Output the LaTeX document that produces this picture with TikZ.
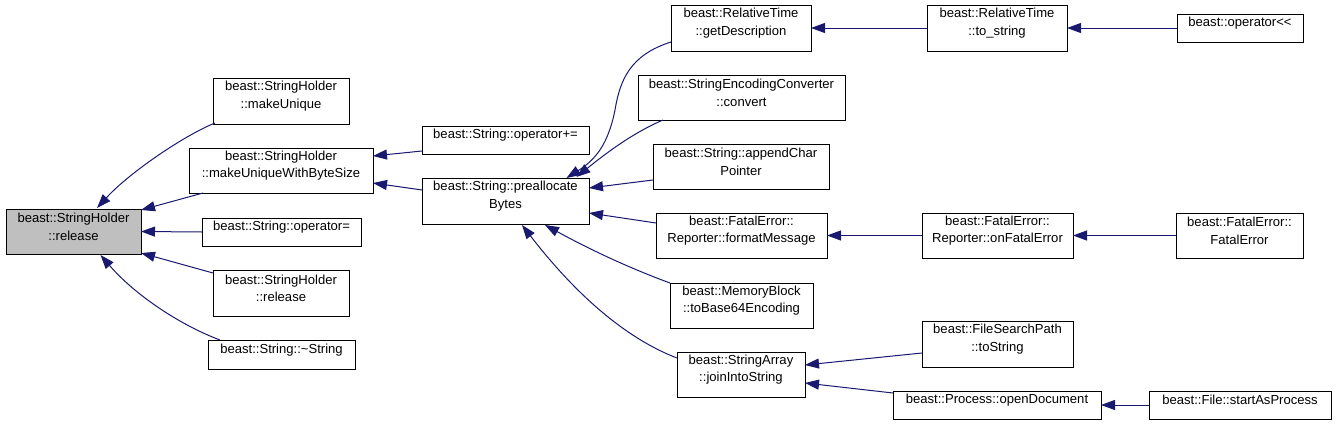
\documentclass[tikz,border=0pt]{standalone}
\usepackage{fontspec}
\setmainfont{Liberation Sans}
\usetikzlibrary{fit,calc,arrows.meta}
\definecolor{edgeblue}{RGB}{25,25,112}
\definecolor{relgray}{RGB}{191,191,191}
\begin{document}
\begin{tikzpicture}[x=0.75pt,y=-0.75pt,
  box/.style={draw=black,line width=0.75pt,inner sep=0pt,outer sep=0pt,align=center,
    font=\fontsize{9.8}{13}\selectfont},
  lbox/.style={box,align=left},
  edge/.style={draw=edgeblue,line width=0.75pt,-{Triangle[length=10.5pt,width=7.5pt]}}]
\useasboundingbox (0,0) rectangle (1336,425);
% nodes
\node[box,fill=relgray,fit={(6,209)(141,254)}] (rel) {beast::StringHolder\\::release};
\node[box,fit={(213,78)(349,124)}] (mu) {beast::StringHolder\\::makeUnique};
\node[lbox,fit={(189,148)(373,193)}] (mws) {beast::StringHolder\\::makeUniqueWithByteSize};
\node[box,fit={(202,218)(361,246)}] (opeq) {beast::String::operator=};
\node[box,fit={(213,270)(349,316)}] (shrel) {beast::StringHolder\\::release};
\node[box,fit={(208,340)(355,369)}] (dtor) {beast::String::\textasciitilde String};
\node[box,fit={(422,126)(589,154)}] (opplus) {beast::String::operator+=};
\node[box,fit={(422,178)(589,224)}] (pre) {beast::String::preallocate\\Bytes};
\node[box,fit={(671,5)(811,51)}] (gd) {beast::RelativeTime\\::getDescription};
\node[box,fit={(638,75)(845,120)}] (conv) {beast::StringEncodingConverter\\::convert};
\node[box,fit={(653,144)(829,189)}] (acp) {beast::String::appendChar\\Pointer};
\node[lbox,fit={(656,213)(827,258)}] (fm) {beast::FatalError::\\Reporter::formatMessage};
\node[box,fit={(670,283)(813,328)}] (mb) {beast::MemoryBlock\\::toBase64Encoding};
\node[box,fit={(677,352)(805,397)}] (jis) {beast::StringArray\\::joinIntoString};
\node[box,fit={(927,5)(1067,51)}] (ts) {beast::RelativeTime\\::to\_string};
\node[box,fit={(1177,14)(1303,42)}] (opll) {beast::operator\textless{}\textless};
\node[lbox,fit={(922,213)(1073,258)}] (fe) {beast::FatalError::\\Reporter::onFatalError};
\node[box,fit={(1176,213)(1303,258)}] (fatal) {beast::FatalError::\\FatalError};
\node[box,fit={(922,321)(1073,367)}] (fsp) {beast::FileSearchPath\\::toString};
\node[box,fit={(893,391)(1101,419)}] (od) {beast::Process::openDocument};
\node[box,fit={(1149,391)(1331,419)}] (sap) {beast::File::startAsProcess};
% edges
\draw[edge] ($(mu.south west)+(2,-1)$) .. controls (185,135) and (130,172) .. ($(rel.north)+(23.5,-1)$);
\draw[edge] ($(mws.south west)+(14,0)$) -- ($(rel.north east)+(0,1)$);
\draw[edge] (opeq.west) -- (rel.east);
\draw[edge] ($(shrel.north west)+(0,3)$) -- ($(rel.south east)+(0,-1)$);
\draw[edge] ($(dtor.north west)+(12,0)$) .. controls (180,325) and (135,295) .. ($(rel.south)+(27,1)$);
\draw[edge] ($(opplus.south west)+(0,-3)$) -- ($(mws.north east)+(0,8)$);
\draw[edge] ($(pre.north west)+(0,12)$) -- ($(mws.south east)+(0,-10)$);
\draw[edge] ($(gd.south west)+(0,-9)$) .. controls (630,55) and (620,80) .. (615,110)
   .. controls (608,145) and (595,160) .. ($(pre.north)+(61,0)$);
\draw[edge] ($(conv.south west)+(25,0)$) .. controls (635,132) and (610,150) .. ($(pre.north)+(71,-1)$);
\draw[edge] ($(acp.south west)+(0,-9)$) -- ($(pre.north east)+(0,10)$);
\draw[edge] ($(fm.north west)+(0,10)$) -- ($(pre.south east)+(0,-11)$);
\draw[edge] (mb.north west) .. controls (640,272) and (600,255) .. ($(pre.south)+(39.5,1)$);
\draw[edge] ($(jis.north west)+(0,6)$) .. controls (630,340) and (580,300) .. ($(pre.south)+(16.5,1)$);
\draw[edge] (ts.west) -- (gd.east);
\draw[edge] (opll.west) -- (ts.east);
\draw[edge] (fe.west) -- (fm.east);
\draw[edge] (fatal.west) -- (fe.east);
\draw[edge] ($(fsp.west)+(0,9)$) -- ($(jis.east)+(0,-9.5)$);
\draw[edge] ($(od.north west)+(0,2)$) -- ($(jis.east)+(0,8.5)$);
\draw[edge] (sap.west) -- (od.east);
\end{tikzpicture}
\end{document}
